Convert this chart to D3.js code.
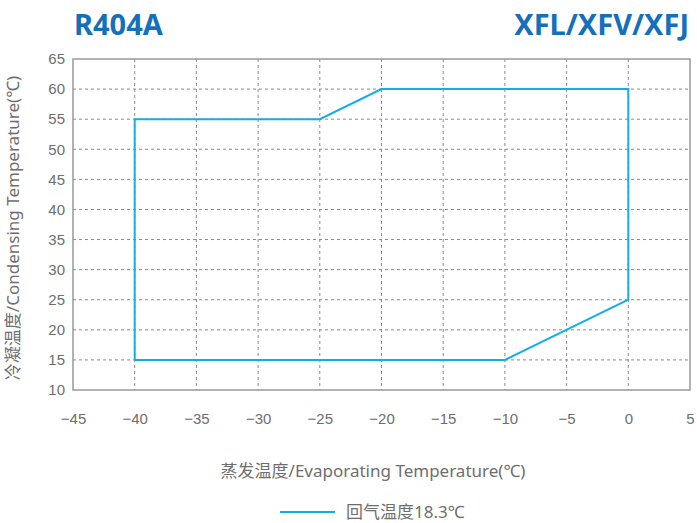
<!DOCTYPE html>
<html><head><meta charset="utf-8">
<script src="https://cdn.jsdelivr.net/npm/d3@7"></script>
<style>body{margin:0;background:#fff}svg{display:block;font-family:"Noto Sans","Noto Sans CJK SC",sans-serif}</style>
</head><body>
<svg id="c" width="697" height="523"></svg>
<script>
const evapTemps = [-40, -40, -25, -20, 0, 0, -10, -40];
const condTemps = [15, 55, 55, 60, 60, 25, 15, 15];
const xTicks = [-45, -40, -35, -30, -25, -20, -15, -10, -5, 0, 5];
const yTicks = [10, 15, 20, 25, 30, 35, 40, 45, 50, 55, 60, 65];
const seriesName = "回气温度18.3℃";

const svg = d3.select("#c");
const L = 73, R = 690, T = 59, B = 390;
const x = d3.scaleLinear().domain([-45, 5]).range([L, R]);
const y = d3.scaleLinear().domain([10, 65]).range([B, T]);
const grid = "#8a8a8a", axisC = "#999", txt = "#6e6e6e";

// grid
svg.append("g").selectAll("line").data(xTicks.slice(1, -1)).join("line")
  .attr("x1", d => x(d)).attr("x2", d => x(d)).attr("y1", T).attr("y2", B)
  .attr("stroke", grid).attr("stroke-width", 1).attr("stroke-dasharray", "3,3");
svg.append("g").selectAll("line").data(yTicks.slice(1, -1)).join("line")
  .attr("y1", d => y(d)).attr("y2", d => y(d)).attr("x1", L).attr("x2", R)
  .attr("stroke", grid).attr("stroke-width", 1).attr("stroke-dasharray", "3,3");

// frame
svg.append("rect").attr("x", L).attr("y", T).attr("width", R - L).attr("height", B - T)
  .attr("fill", "none").attr("stroke", axisC).attr("stroke-width", 1.5);

// axes labels via d3 axes
const xa = svg.append("g").attr("transform", `translate(0,${B})`)
  .call(d3.axisBottom(x).tickValues(xTicks).tickSize(0).tickPadding(23).tickFormat(d => d < 0 ? "\u2212" + Math.abs(d) : d));
xa.select(".domain").remove();
xa.selectAll("text").attr("fill", txt).attr("font-size", 15);
const ya = svg.append("g").attr("transform", `translate(${L},0)`)
  .call(d3.axisLeft(y).tickValues(yTicks).tickSize(0).tickPadding(8));
ya.select(".domain").remove();
ya.selectAll("text").attr("fill", txt).attr("font-size", 15);

// data line
const line = d3.line().x((d, i) => x(evapTemps[i])).y((d, i) => y(condTemps[i]));
svg.append("path").datum(evapTemps).attr("d", line)
  .attr("fill", "none").attr("stroke", "#14aee6").attr("stroke-width", 2);

// titles
svg.append("text").attr("x", 74).attr("y", 35).text("R404A")
  .attr("fill", "#1570bb").attr("font-size", 29).attr("font-weight", "bold");
svg.append("text").attr("x", 689).attr("y", 35).attr("text-anchor", "end").text("XFL/XFV/XFJ")
  .attr("fill", "#1570bb").attr("font-size", 29).attr("font-weight", "bold");

svg.append("text").attr("x", 373).attr("y", 477).attr("text-anchor", "middle")
  .text("蒸发温度/Evaporating Temperature(℃)").attr("fill", txt).attr("font-size", 17);
svg.append("text").attr("transform", "translate(19,228) rotate(-90)").attr("text-anchor", "middle")
  .text("冷凝温度/Condensing Temperature(℃)").attr("fill", txt).attr("font-size", 17);

// legend
svg.append("line").attr("x1", 280).attr("x2", 335).attr("y1", 512).attr("y2", 512)
  .attr("stroke", "#14aee6").attr("stroke-width", 2);
svg.append("text").attr("x", 346).attr("y", 518).text(seriesName)
  .attr("fill", txt).attr("font-size", 17);
</script>
</body></html>
